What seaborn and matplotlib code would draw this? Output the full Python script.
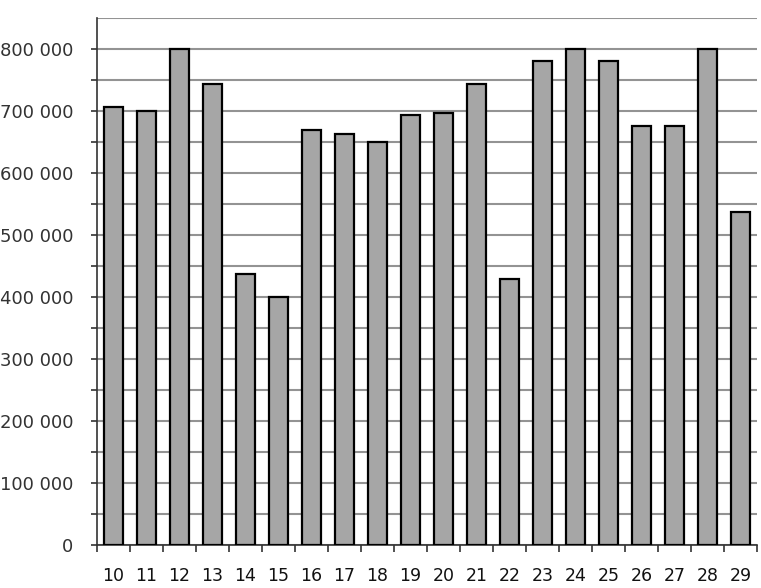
import numpy as np
import pandas as pd
import matplotlib
matplotlib.use("Agg")
import matplotlib.pyplot as plt
import seaborn as sns
from matplotlib.ticker import MultipleLocator, FuncFormatter, FixedLocator

# values
days = [str(d) for d in range(10, 30)]
amounts = [706000, 700000, 800000, 743000, 437000, 400000, 669000, 663000,
           650000, 694000, 696000, 743000, 429000, 780000, 800000, 781000,
           676000, 676000, 800000, 537000]

df = pd.DataFrame({"day": days, "amount": amounts})

sns.set_style("white")
plt.rcParams["font.family"] = ["DejaVu Sans"]

fig = plt.figure(figsize=(7.61, 5.88), dpi=100)
fig.patch.set_facecolor("white")
ax = fig.add_axes([97 / 761, 43 / 588, 660 / 761, 527 / 588])

sns.barplot(data=df, x="day", y="amount", order=days, color="#a6a6a6",
            saturation=1, width=0.6, edgecolor="black", linewidth=1.6,
            ax=ax, zorder=3)

ax.set_xlim(-0.5, len(days) - 0.5)
ax.set_ylim(0, 850000)
ax.yaxis.set_major_locator(MultipleLocator(100000))
ax.yaxis.set_minor_locator(FixedLocator(np.arange(50000, 800001, 100000)))
ax.yaxis.set_major_formatter(FuncFormatter(lambda v, p: f"{int(v):,}".replace(",", " ")))
ax.grid(True, axis="y", which="both", color="#939393", linewidth=1.5, zorder=0)
ax.axhline(850000, color="#939393", linewidth=1.5, zorder=0)
ax.set_axisbelow(True)

ax.xaxis.set_minor_locator(FixedLocator(np.arange(-0.5, len(days), 1.0)))
ax.tick_params(axis="x", which="major", length=0, pad=16, labelsize=12.5, labelcolor="#111111")
ax.tick_params(axis="x", which="minor", length=5, width=1.2, color="#333333", bottom=True)
ax.tick_params(axis="y", which="both", length=4, width=1.2, color="#333333", left=True,
               labelsize=13, labelcolor="#333333", pad=13)

for s in ["top", "right"]:
    ax.spines[s].set_visible(False)
for s in ["left", "bottom"]:
    ax.spines[s].set_color("#333333")
    ax.spines[s].set_linewidth(1.2)

ax.set_xlabel("")
ax.set_ylabel("")

fig.savefig("out.png", dpi=100)
